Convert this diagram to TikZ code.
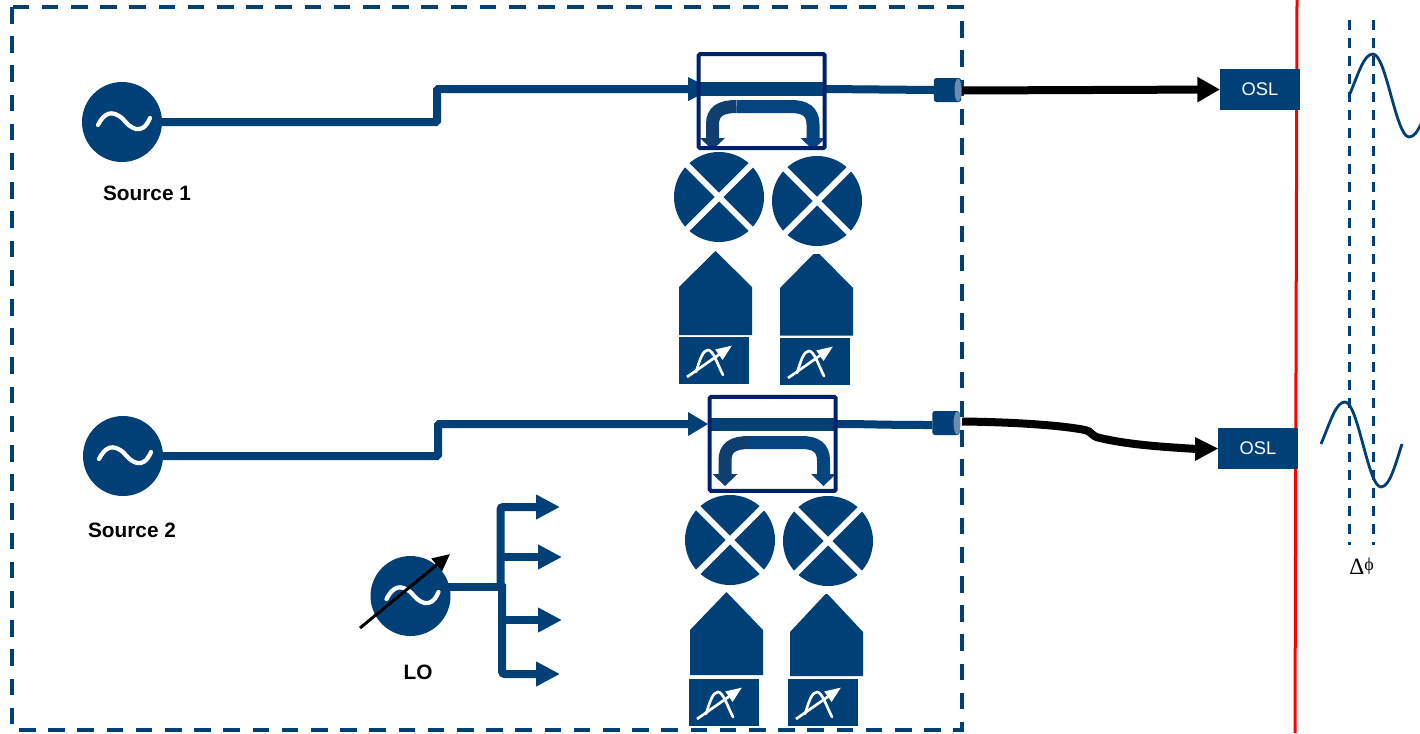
\documentclass[tikz,border=0pt]{standalone}
\usepackage{fontspec}
\setmainfont{Liberation Sans}
\newfontfamily\serifface{Liberation Serif}
\usetikzlibrary{arrows.meta,calc}
\definecolor{mainblue}{HTML}{004077}
\definecolor{navybox}{HTML}{00206A}
\definecolor{armdark}{HTML}{0F3F6F}
\definecolor{armlight}{HTML}{05457F}
\definecolor{capblue}{HTML}{6A8CB0}
\tikzset{
  srcnode/.style={circle,fill=mainblue,minimum size=60pt,inner sep=0pt,outer sep=0pt},
  mixnode/.style={circle,fill=mainblue,minimum size=67.5pt,inner sep=0pt,outer sep=0pt},
  couplerbox/.style={rectangle,draw=navybox,line width=3pt,rounded corners=1pt,minimum width=94.5pt,minimum height=70.5pt,inner sep=0pt,outer sep=0pt},
  oslnode/.style={rectangle,fill=mainblue,text=white,font=\fontsize{13.7pt}{15pt}\selectfont,minimum width=60pt,minimum height=30.75pt,inner sep=0pt,outer sep=0pt},
  portnode/.style={rectangle,fill=mainblue,rounded corners=2pt,minimum width=20.5pt,minimum height=18pt,inner sep=0pt,outer sep=0pt},
  plotbox/.style={rectangle,fill=mainblue,minimum width=52.5pt,minimum height=35.25pt,inner sep=0pt,outer sep=0pt},
  lab/.style={font=\fontsize{15.6pt}{18pt}\selectfont\bfseries,text=black,inner sep=0pt},
  bluewire/.style={draw=mainblue,line width=6pt},
  blackwire/.style={draw=black,line width=6pt},
  blueflow/.style={bluewire,-{Triangle[length=18pt,width=17.5pt]}},
  blackflow/.style={draw=black,line width=6pt,-{Triangle[length=17pt,width=18pt]}},
  wave/.style={draw=mainblue,line width=2.1pt},
  phaseline/.style={draw=mainblue,line width=2.25pt,dash pattern=on 7.5pt off 6pt},
  whitewave/.style={draw=white,line width=3.2pt,line cap=round},
}
% tilde inside a source
\newcommand{\tildein}[1]{%
  \draw[whitewave] ($(#1)+(-24,3)$) .. controls ($(#1)+(-18,-9)$) and ($(#1)+(-10,-13)$) .. ($(#1)+(1,-3)$)
     .. controls ($(#1)+(8,6)$) and ($(#1)+(20,15)$) .. ($(#1)+(28,-4)$);}
% mixer: name, x, y
\newcommand{\mixer}[3]{%
  \node[mixnode] (#1) at (#2,#3) {};
  \draw[white,line width=4.5pt] ($(#1)+(-36,-36)$) -- ($(#1)+(36,36)$);
  \draw[white,line width=4.5pt] ($(#1)+(-36,36)$) -- ($(#1)+(36,-36)$);}
% detector: name, left x, apex half-width, apex y, shoulder y, bottom y, box left x, box top y
\newcommand{\detector}[8]{%
  \fill[mainblue] (#2,#6) -- (#2,#5) -- ({#2+36.5-#3},#4) -- ({#2+36.5+#3},#4) -- ({#2+73},#5) -- ({#2+73},#6) -- cycle;
  \node[plotbox] (#1) at ({#7+35},{#8+23.5}) {};
  \begin{scope}[shift={(#7,#8)}]
    \draw[white,line width=2pt,line cap=round] (17,35) .. controls (21,22) and (24,13) .. (29,13) .. controls (34,13) and (38,26) .. (44,38);
    \draw[white,line width=2pt,-{Triangle[length=12pt,width=9pt]}] (8,40) -- (53,8.5);
  \end{scope}}
% curved coupler arrows: left-arm x, right-arm x, top y (centre), tip y
\newcommand{\arms}[4]{%
  \draw[armdark,line width=9.75pt] ({#1},{#4-10}) -- ({#1},{#3+18}) .. controls ({#1},{#3+5}) and ({#1+8},{#3}) .. ({#1+24},{#3});
  \draw[armlight,line width=9.75pt] ({#1+24},{#3}) -- ({#2-22},{#3}) .. controls ({#2-8},{#3}) and ({#2},{#3+5}) .. ({#2},{#3+18}) -- ({#2},{#4-10});
  \fill[armdark] ({#1-12.5},{#4-12}) -- ({#1+12.5},{#4-12}) -- ({#1},{#4}) -- cycle;
  \fill[armlight] ({#2-12.5},{#4-12}) -- ({#2+12.5},{#4-12}) -- ({#2},{#4}) -- cycle;}
\begin{document}
\begin{tikzpicture}[x=0.75pt,y=-0.75pt]
\useasboundingbox (0,0) rectangle (1420,733);
% red reference plane
\coordinate (redtop) at (1297,0);
\coordinate (redbot) at (1295,733);
\draw[red,line width=2.25pt] (redtop) -- (redbot);
% dashed enclosure
\draw[draw=mainblue,line width=3.2pt,dash pattern=on 12.5pt off 9.4pt] (12,7) rectangle (962,730);

% ---- Branch 1
\node[srcnode] (src1) at (122,122) {};
\tildein{src1}
\node[lab,anchor=center] (src1lab) at (147,193) {Source 1};
\coordinate (b1a) at (437,122);
\coordinate (b1b) at (437,89);
\node[portnode] (port1) at (947.5,90) {};
\draw[bluewire,rounded corners=1pt] (src1.east |- 0,122) -- (b1a) -- (b1b) -- (690,89);
\fill[mainblue] (688,77) -- (712,89) -- (688,101) -- cycle;
\fill[mainblue] (697,82) rectangle (826,95.5);
\draw[bluewire] (826,89) -- (port1.west);
\fill[capblue] (958,90) ellipse [x radius=3.5,y radius=11.5];
\arms{712.5}{813}{106.5}{150}
\node[couplerbox] (cpl1) at (761.7,101.2) {};
\mixer{mix1a}{719}{197}
\mixer{mix1b}{817}{201}
\detector{det1a}{679}{0}{251}{287}{335}{679}{337}
\detector{det1b}{780}{3}{254}{288}{335.5}{780}{338}
\node[oslnode] (osl1) at (1260,89.5) {OSL};
\draw[blackflow] (962,90.5) -- (osl1.west);

% ---- Branch 2
\node[srcnode] (src2) at (123,456) {};
\tildein{src2}
\node[lab,anchor=center] (src2lab) at (132,530) {Source 2};
\coordinate (b2a) at (438,456);
\coordinate (b2b) at (438,424);
\node[portnode] (port2) at (946,423) {};
\draw[bluewire,rounded corners=1pt] (src2.east |- 0,456) -- (b2a) -- (b2b) -- (695,424);
\fill[mainblue] (688,412) -- (708,424) -- (688,436) -- cycle;
\fill[mainblue] (711,418) rectangle (837,431);
\draw[bluewire] (837,424) .. controls (870,424) and (880,425) .. (port2.west |- 0,425);
\fill[capblue] (957,423) ellipse [x radius=3.5,y radius=11.5];
\arms{725}{823.5}{442.5}{486}
\node[couplerbox] (cpl2) at (772.7,443.8) {};
\mixer{mix2a}{730}{540}
\mixer{mix2b}{828}{541}
\detector{det2a}{690}{0}{592}{630}{675}{689}{679}
\detector{det2b}{790}{1}{594}{632}{676}{788}{679}
\node[oslnode] (osl2) at (1258,448.5) {OSL};
\draw[blackwire] (962,421.5) .. controls (1010,422) and (1060,425) .. (1085,430) .. controls (1092,431) and (1090,436) .. (1100,438) .. controls (1130,445) and (1165,447) .. (1197,449);
\fill[black] (1195,437) -- (osl2.west) -- (1195,461) -- cycle;

% ---- LO
\node[srcnode] (lo) at (410.5,596) {};
\tildein{lo}
\node[lab] (lolab) at (418,672) {LO};
\coordinate (arrowstart) at (360,628);
\coordinate (arrowend) at (450,554);
\draw[black,line width=2.25pt,-{Triangle[length=13pt,width=12pt]}] (arrowstart) -- (arrowend);
\coordinate (busup) at (500.5,507);
\coordinate (busdn) at (502,674);
\coordinate (busj) at (500.5,587);
\coordinate (tip1) at (560,507);
\coordinate (tip2) at (562,557);
\coordinate (tip3) at (562,620);
\coordinate (tip4) at (560,674);
\draw[bluewire] ($(lo.east |- busj)+(-3,0)$) -- (505,587);
\draw[blueflow] (500.5,557) -- (tip2);
\draw[blueflow] (502,620) -- (tip3);
\draw[blueflow,rounded corners=2pt] (500.5,590) -- (busup) -- (tip1);
\draw[blueflow,rounded corners=2pt] (502,584) -- (busdn) -- (tip4);

% ---- Waveforms
\coordinate (p1t) at (1349,20);
\coordinate (p2t) at (1373,20);
\coordinate (p1b) at (1349,545);
\coordinate (p2b) at (1373,545);
\draw[phaseline] (p1t) -- (p1b);
\draw[phaseline] (p2t) -- (p2b);
\begin{scope}
\clip (1300,0) rectangle (1420,733);
\draw[wave] (1349,96) .. controls (1359,72) and (1364,54) .. (1373,54) .. controls (1386,54) and (1396,137) .. (1409,137) .. controls (1414,137) and (1417,132) .. (1421,124);
\draw[wave] (1321,444) .. controls (1331,420) and (1336,402) .. (1345,402) .. controls (1358,402) and (1368,487) .. (1381,487) .. controls (1390,487) and (1396,462) .. (1402,444);
\end{scope}
\node[inner sep=0pt,font=\serifface\fontsize{17.5pt}{18pt}\selectfont] (dphi) at (1361.5,566.5) {Δ\raisebox{3pt}{\fontsize{13.5pt}{14pt}\selectfont ϕ}};
\end{tikzpicture}
\end{document}
